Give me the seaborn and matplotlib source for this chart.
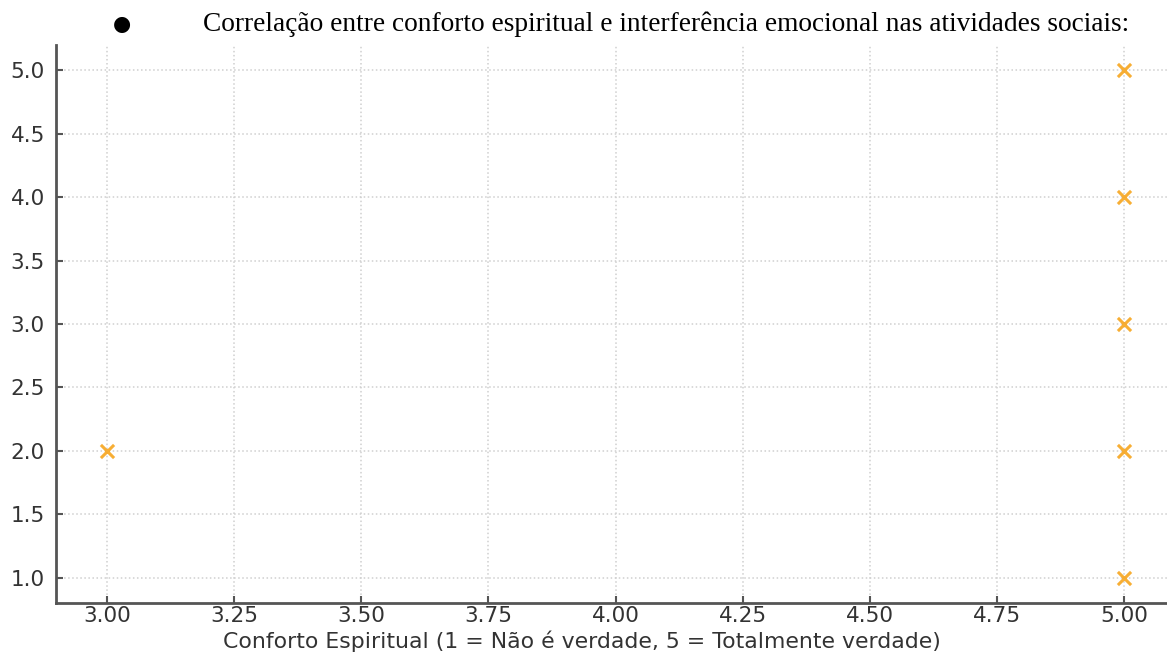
import matplotlib
matplotlib.use("Agg")
import matplotlib.pyplot as plt
import seaborn as sns
import pandas as pd

# respostas: conforto espiritual x interferencia emocional
conforto = [3, 5, 5, 5, 5, 5]
interferencia = [2, 5, 4, 3, 2, 1]
x_ticks = [3.00, 3.25, 3.50, 3.75, 4.00, 4.25, 4.50, 4.75, 5.00]
y_ticks = [1.0, 1.5, 2.0, 2.5, 3.0, 3.5, 4.0, 4.5, 5.0]

df = pd.DataFrame({'Conforto': conforto, 'Interferencia': interferencia})

sns.set_style("white")
plt.rcParams['font.family'] = ['DejaVu Sans']

fig = plt.figure(figsize=(11.67, 6.55), dpi=100)
ax = fig.add_axes([0.048, 0.0794, 0.959, 0.852])

sns.scatterplot(data=df, x='Conforto', y='Interferencia', marker='x',
                color='#f7a51e', s=90, linewidth=2.2, alpha=0.9, ax=ax, zorder=3)

ax.set_xlim(2.9, 5.1)
ax.set_ylim(0.8, 5.2)
ax.set_xticks(x_ticks)
ax.set_xticklabels([f"{v:.2f}" for v in x_ticks])
ax.set_yticks(y_ticks)
ax.set_yticklabels([f"{v:.1f}" for v in y_ticks])
ax.grid(True, linestyle=':', color='#cfcfcf', linewidth=1.1)
ax.tick_params(axis='both', labelsize=15.5, labelcolor='#333333', color='#555555',
               length=5, width=1.5, direction='in', left=True, bottom=True)
ax.tick_params(axis='x', pad=2)
ax.tick_params(axis='y', pad=8)
ax.set_xlabel('Conforto Espiritual (1 = Não é verdade, 5 = Totalmente verdade)',
              fontsize=15.8, color='#333333', va='center')
ax.xaxis.set_label_coords(0.470, -0.069)
ax.set_ylabel('')
for s in ['top', 'right']:
    ax.spines[s].set_visible(False)
for s in ['left', 'bottom']:
    ax.spines[s].set_color('#555555')
    ax.spines[s].set_linewidth(2)

fig.text(0.097, 0.963, '●', fontsize=15, family='DejaVu Sans', color='black', va='center')
fig.text(0.174, 0.963, 'Correlação entre conforto espiritual e interferência emocional nas atividades sociais:',
         fontsize=19.75, family='Liberation Serif', color='black', va='center')

fig.savefig('out.png', dpi=100)
